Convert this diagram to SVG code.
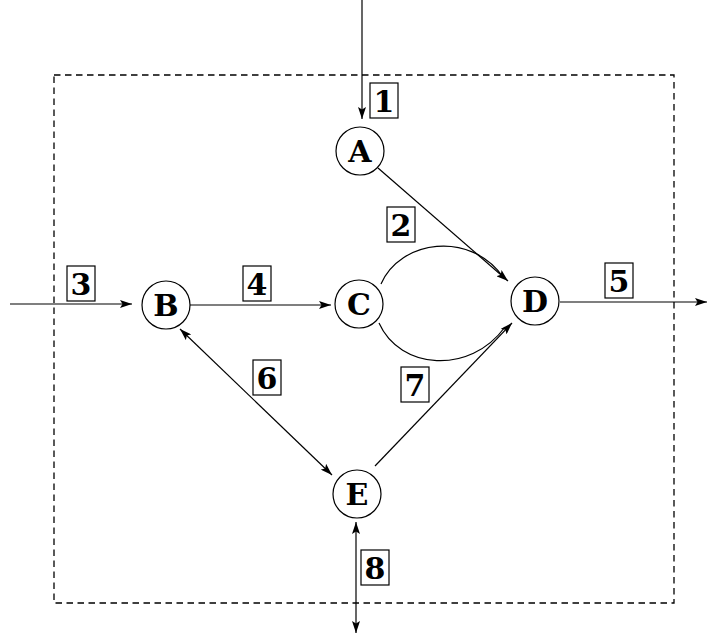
<svg xmlns="http://www.w3.org/2000/svg" width="708" height="634" viewBox="0 0 708 634">
<style>
.frame{fill:none;stroke:#000;stroke-width:1.3;stroke-dasharray:6.5 4.5}
.node circle{fill:#fff;stroke:#000;stroke-width:1.2}
.node text{font-family:'DejaVu Serif','Liberation Serif',serif;font-weight:bold;font-size:30px;text-anchor:middle}
.lbl rect{fill:#fff;stroke:#000;stroke-width:1.2}
.lbl text{font-family:'DejaVu Serif','Liberation Serif',serif;font-weight:bold;font-size:30px;text-anchor:middle}
.e{fill:none;stroke:#000;stroke-width:1.2}
</style>
<defs>
<marker id="ah" viewBox="0 0 12 8" refX="12" refY="4" markerWidth="12" markerHeight="8" markerUnits="userSpaceOnUse" orient="auto-start-reverse">
<path d="M0,0 L12,4 L0,8 L2.5,4 Z" fill="#000"/>
</marker>
</defs>
<rect class="frame" x="54" y="75" width="620" height="528"/>
<g id="connectors">
<line class="e" x1="362" y1="0" x2="362" y2="119" marker-end="url(#ah)"/>
<line class="e" x1="10" y1="304" x2="132" y2="304" marker-end="url(#ah)"/>
<line class="e" x1="190" y1="305" x2="331" y2="305" marker-end="url(#ah)"/>
<line class="e" x1="560" y1="302" x2="707" y2="302" marker-end="url(#ah)"/>
<line class="e" x1="378" y1="168" x2="508" y2="281" marker-end="url(#ah)"/>
<path class="e" d="M381,284 C400,240 470,230 503,277"/>
<path class="e" d="M379,323 C400,370 470,375 505,327"/>
<line class="e" x1="375" y1="466" x2="512" y2="323" marker-end="url(#ah)"/>
<line class="e" x1="180" y1="329" x2="332" y2="475" marker-start="url(#ah)" marker-end="url(#ah)"/>
<line class="e" x1="356" y1="522" x2="356" y2="633" marker-start="url(#ah)" marker-end="url(#ah)"/>
</g>
<g id="node-A" class="node"><circle cx="360" cy="151" r="24"/><text x="360" y="162">A</text></g>
<g id="node-B" class="node"><circle cx="166" cy="305" r="24"/><text x="166" y="316">B</text></g>
<g id="node-C" class="node"><circle cx="359" cy="304" r="24"/><text x="359" y="315">C</text></g>
<g id="node-D" class="node"><circle cx="535" cy="301" r="24"/><text x="535" y="312">D</text></g>
<g id="node-E" class="node"><circle cx="357" cy="494" r="24"/><text x="357" y="505">E</text></g>
<g id="label-1" class="lbl"><rect x="370" y="83" width="28" height="35"/><text x="384" y="112">1</text></g>
<g id="label-2" class="lbl"><rect x="387" y="207" width="28" height="35"/><text x="401" y="236">2</text></g>
<g id="label-3" class="lbl"><rect x="67" y="266" width="28" height="35"/><text x="81" y="295">3</text></g>
<g id="label-4" class="lbl"><rect x="243" y="266" width="28" height="35"/><text x="257" y="295">4</text></g>
<g id="label-5" class="lbl"><rect x="605" y="263" width="28" height="35"/><text x="619" y="292">5</text></g>
<g id="label-6" class="lbl"><rect x="253" y="360" width="28" height="35"/><text x="267" y="389">6</text></g>
<g id="label-7" class="lbl"><rect x="401" y="367" width="28" height="35"/><text x="415" y="396">7</text></g>
<g id="label-8" class="lbl"><rect x="361" y="550" width="28" height="35"/><text x="375" y="579">8</text></g>
</svg>
